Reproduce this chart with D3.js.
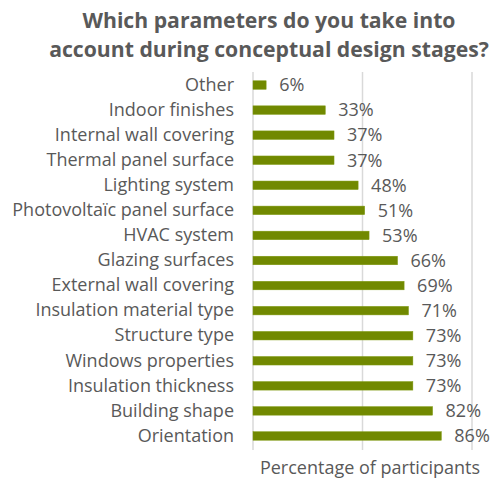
<!DOCTYPE html>
<html><head><meta charset="utf-8">
<script src="https://cdn.jsdelivr.net/npm/d3@7"></script>
<style>body{margin:0;background:#fff;} svg{display:block;font-family:"Open Sans", sans-serif;}</style>
</head><body>
<svg id="c" width="497" height="479"></svg>
<script>
const categories = ["Other","Indoor finishes","Internal wall covering","Thermal panel surface","Lighting system","Photovoltaïc panel surface","HVAC system","Glazing surfaces","External wall covering","Insulation material type","Structure type","Windows properties","Insulation thickness","Building shape","Orientation"];
const values = [6,33,37,37,48,51,53,66,69,71,73,73,73,82,86];
const gridTicks = [0,50,100];
const titleLines = ["Which parameters do you take into","account during conceptual design stages?"];
const axisTitle = "Percentage of participants";

const svg = d3.select("#c");
const x = d3.scaleLinear().domain([0,100]).range([253,472]);
const y = d3.scaleBand().domain(categories).range([72.5,448.5]).paddingInner(0.66).paddingOuter(0.33);
const txt = "#595959";

svg.selectAll(".t").data(titleLines).join("text")
  .attr("x",269).attr("y",(d,i)=>28+i*29)
  .attr("text-anchor","middle").attr("font-size",21.2).attr("font-weight","bold").attr("fill",txt).text(d=>d);

svg.append("g").selectAll("line").data(gridTicks).join("line")
  .attr("x1",d=>x(d)).attr("x2",d=>x(d)).attr("y1",72).attr("y2",450)
  .attr("stroke","#d9d9d9").attr("stroke-width",1.5);

const yAxis = d3.axisLeft(y).tickSize(0).tickPadding(0);
const ga = svg.append("g").attr("transform",`translate(234,0)`).call(yAxis);
ga.select(".domain").remove();
ga.selectAll("text").attr("font-size",18).attr("fill",txt).attr("font-family","'Open Sans', sans-serif");

svg.append("g").selectAll("rect").data(values).join("rect")
  .attr("x",x(0)).attr("y",(d,i)=>y(categories[i]))
  .attr("width",d=>x(d)-x(0)).attr("height",y.bandwidth())
  .attr("fill","#718900").attr("stroke","#7f9a10").attr("stroke-width",0.5);

svg.append("g").selectAll("text").data(values).join("text")
  .attr("x",d=>x(d)+13).attr("y",(d,i)=>y(categories[i])+y.bandwidth()/2)
  .attr("dy","0.35em").attr("font-size",18).attr("fill",txt).text(d=>d+"%");

svg.append("text").attr("x",370).attr("y",474).attr("text-anchor","middle")
  .attr("font-size",18).attr("fill",txt).text(axisTitle);
</script>
</body></html>
